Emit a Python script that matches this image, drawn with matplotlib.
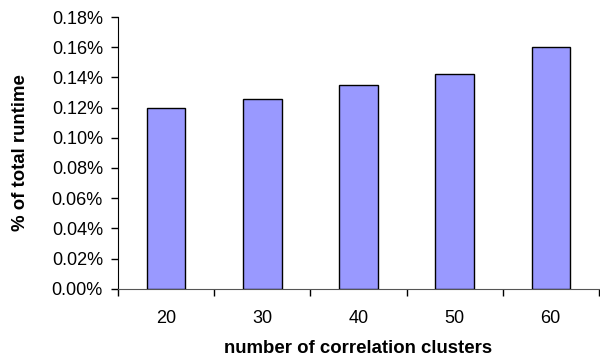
import numpy as np
import matplotlib.pyplot as plt
from matplotlib.ticker import FuncFormatter, FixedLocator

plt.rcParams['font.family'] = ['Liberation Sans', 'DejaVu Sans']

clusters = ['20', '30', '40', '50', '60']
runtime_share = [0.120, 0.126, 0.1347, 0.142, 0.160]  # percent of total runtime

fig = plt.figure(figsize=(6.0, 3.56), dpi=100)
ax = fig.add_axes([0.197, 0.189, 0.801, 0.763])

x = np.arange(len(clusters))
ax.bar(x, runtime_share, width=0.4, color='#9999ff', edgecolor='black', linewidth=1.0, zorder=3)

ax.set_xlim(-0.5, len(clusters) - 0.5)
ax.set_ylim(0, 0.18)
ax.set_yticks(np.arange(0, 0.181, 0.02))
ax.yaxis.set_major_formatter(FuncFormatter(lambda v, pos: f'{v:.2f}%'))

# category labels centred, tick marks between categories
ax.set_xticks(x)
ax.set_xticklabels(clusters)
ax.xaxis.set_minor_locator(FixedLocator(np.arange(-0.5, len(clusters), 1.0)))
ax.tick_params(axis='x', which='major', length=0, pad=15, labelsize=13)
ax.tick_params(axis='x', which='minor', length=5, width=1, direction='out')
ax.tick_params(axis='y', length=5, width=1, direction='out', labelsize=13, pad=6)

ax.spines['top'].set_visible(False)
ax.spines['right'].set_visible(False)
ax.spines['bottom'].set_color('#555555')

ax.set_xlabel('number of correlation clusters', fontsize=13.4, fontweight='bold', labelpad=10)
ax.set_ylabel('% of total runtime', fontsize=13.4, fontweight='bold', labelpad=16)

fig.savefig('out.png', dpi=100)
